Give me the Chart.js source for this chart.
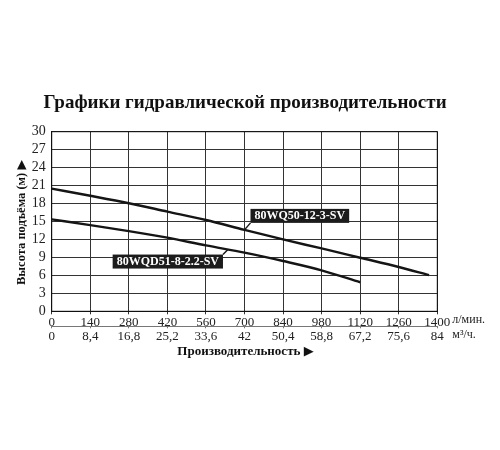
<!DOCTYPE html>
<html>
<head>
<meta charset="utf-8">
<script src="https://cdn.jsdelivr.net/npm/chart.js@4/dist/chart.umd.min.js"></script>
<style>
html,body{margin:0;padding:0;background:#fff;}
#wrap{width:500px;height:450px;}
</style>
</head>
<body>
<div id="wrap"><canvas id="c" width="500" height="450"></canvas></div>
<script>
const chartTitle = 'Графики гидравлической производительности';
const yTitle = 'Высота подъёма (м) ▶';
const xTitle = 'Производительность ▶';
const unitTop = 'л/мин.';
const unitBottom = 'м³/ч.';

const flowTicks = [0,140,280,420,560,700,840,980,1120,1260,1400];
const m3Labels = ['0','8,4','16,8','25,2','33,6','42','50,4','58,8','67,2','75,6','84'];
const headTicks = [0,3,6,9,12,15,18,21,24,27,30];

const seriesNames = ['80WQ50-12-3-SV','80WQD51-8-2.2-SV'];
const flowUpper = [0,140,280,420,560,700,840,980,1120,1260,1370];
const headUpper = [20.5,19.3,18.05,16.65,15.25,13.6,12.0,10.5,8.95,7.4,6.05];
const flowLower = [0,140,280,420,560,700,840,980,1120];
const headLower = [15.35,14.4,13.4,12.3,11.0,9.8,8.4,6.85,4.85];

// label anchors (flow value on each curve)
const labelAnchorFlow = [700, 640];

const SERIF = '"Liberation Serif", "DejaVu Serif", serif';
const SERIF_SYM = '"Liberation Serif", "DejaVu Sans", serif';

function interp(xs, ys, x){
  for(let i=0;i<xs.length-1;i++){
    if(x>=xs[i] && x<=xs[i+1]){
      return ys[i] + (ys[i+1]-ys[i])*(x-xs[i])/(xs[i+1]-xs[i]);
    }
  }
  return ys[ys.length-1];
}

const extras = {
  id:'extras',
  afterDatasetsDraw(chart){
    const ctx = chart.ctx, xs = chart.scales.x, ys = chart.scales.y;
    const specs = [
      {xsArr:flowUpper, ysArr:headUpper, name:seriesNames[0], f:labelAnchorFlow[0], dir:'upright'},
      {xsArr:flowLower, ysArr:headLower, name:seriesNames[1], f:labelAnchorFlow[1], dir:'downleft'}
    ];
    ctx.save();
    ctx.font = 'bold 12px ' + SERIF;
    specs.forEach(s=>{
      const px = xs.getPixelForValue(s.f);
      const py = ys.getPixelForValue(interp(s.xsArr, s.ysArr, s.f));
      const tw = ctx.measureText(s.name).width;
      const bw = tw + 8, bh = 14;
      let ex, ey, bx, by;
      if(s.dir==='upright'){
        ex = px+6; ey = py-7; bx = ex; by = ey-bh;
      } else {
        ex = px-5; ey = py+5; bx = ex-bw; by = ey;
      }
      ctx.strokeStyle = '#1a1a1a'; ctx.lineWidth = 1.5;
      ctx.beginPath(); ctx.moveTo(px,py); ctx.lineTo(ex,ey); ctx.stroke();
      ctx.fillStyle = '#1c1c1c';
      ctx.fillRect(bx,by,bw,bh);
      ctx.fillStyle = '#fff';
      ctx.textAlign='center'; ctx.textBaseline='middle';
      ctx.fillText(s.name, bx+bw/2, by+bh/2+0.5);
    });
    ctx.restore();
  },
  afterDraw(chart){
    const ctx = chart.ctx, ca = chart.chartArea;
    ctx.save();
    ctx.fillStyle = '#111';
    ctx.textAlign='center'; ctx.textBaseline='middle';
    ctx.font = 'bold 19px ' + SERIF;
    ctx.fillText(chartTitle, 245, 103);
    ctx.save();
    ctx.translate(22, (ca.top+ca.bottom)/2+1);
    ctx.rotate(-Math.PI/2);
    ctx.font = 'bold 12.5px ' + SERIF_SYM;
    ctx.fillText(yTitle, 0, 0);
    ctx.restore();
    ctx.font = 'bold 13px ' + SERIF_SYM;
    ctx.fillText(xTitle, (ca.left+ca.right)/2+1, 352);
    ctx.font = '12px ' + SERIF;
    ctx.textAlign='left';
    ctx.fillStyle='#222';
    ctx.fillText(unitTop, ca.right+15, 320);
    ctx.fillText(unitBottom, ca.right+15, 334.5);
    ctx.restore();
  }
};

new Chart(document.getElementById('c'), {
  type:'line',
  data:{
    datasets:[
      {label:seriesNames[0], data:flowUpper.map((f,i)=>({x:f,y:headUpper[i]})),
       borderColor:'#151515', borderWidth:2.4, pointRadius:0, tension:0.3, cubicInterpolationMode:'monotone', fill:false},
      {label:seriesNames[1], data:flowLower.map((f,i)=>({x:f,y:headLower[i]})),
       borderColor:'#151515', borderWidth:2.4, pointRadius:0, tension:0.3, cubicInterpolationMode:'monotone', fill:false}
    ]
  },
  options:{
    responsive:false,
    animation:false,
    devicePixelRatio:1,
    layout:{padding:{left:0, right:62.7, top:131.7, bottom:103.7}},
    plugins:{legend:{display:false}, title:{display:false}, tooltip:{enabled:false}},
    scales:{
      x:{
        type:'linear', position:'bottom', weight:0, min:0, max:1400,
        afterBuildTicks(s){ s.ticks = flowTicks.map(v=>({value:v})); },
        afterFit(s){ s.height = 15; },
        grid:{color:'#333', lineWidth:1, drawTicks:true, tickLength:3},
        border:{display:true, color:'#111', width:1},
        ticks:{autoSkip:false, maxRotation:0, padding:0, color:'#222',
          font:{family:SERIF, size:13}, callback:(v)=>String(v)}
      },
      x2:{
        type:'linear', position:'bottom', weight:1, min:0, max:1400,
        afterBuildTicks(s){ s.ticks = flowTicks.map(v=>({value:v})); },
        afterFit(s){ s.height = 20; },
        grid:{drawOnChartArea:false, color:'#777', drawTicks:true, tickLength:2},
        border:{display:true, color:'#777', width:1},
        ticks:{autoSkip:false, maxRotation:0, padding:0, color:'#222',
          font:{family:SERIF, size:13}, callback:(v)=>m3Labels[flowTicks.indexOf(v)]}
      },
      y:{
        type:'linear', position:'left', min:0, max:30,
        afterBuildTicks(s){ s.ticks = headTicks.map(v=>({value:v})); },
        ticks:{autoSkip:false, padding:6, color:'#222', font:{family:SERIF, size:14},
          callback:(v)=>String(v)},
        afterFit(s){ s.width = 51.7; },
        grid:{color:'#333', lineWidth:1, drawTicks:false},
        border:{display:true, color:'#111', width:1}
      }
    }
  },
  plugins:[extras, {
    id:'frame',
    afterDraw(chart){
      const ctx=chart.ctx, ca=chart.chartArea;
      ctx.save(); ctx.strokeStyle='#111'; ctx.lineWidth=1;
      ctx.strokeRect(ca.left, ca.top, ca.right-ca.left, ca.bottom-ca.top);
      ctx.restore();
    }
  }]
});
</script>
</body>
</html>
